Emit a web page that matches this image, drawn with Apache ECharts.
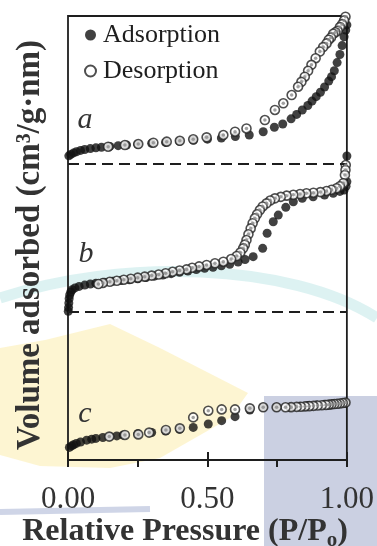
<!DOCTYPE html>
<html><head><meta charset="utf-8">
<script src="https://cdn.jsdelivr.net/npm/echarts@6/dist/echarts.min.js"></script>
<style>html,body{margin:0;padding:0;background:#fff}#c{width:377px;height:546px}</style>
</head><body><div id="c"></div>
<script>
// Relative pressure ticks
const xTickLabels = [0, 0.5, 1];
// vertical offsets of the three stacked isotherms (arbitrary units)
const sampleNames = ['a', 'b', 'c'];
const offsets = [200, 100, 0];

// sample a
const adsA = [[0.003,5.5],[0.01,6.5],[0.02,7.5],[0.03,8.3],[0.045,9.2],[0.06,9.8],[0.08,10.4],[0.10,10.9],[0.12,11.3],[0.15,11.9],[0.18,12.4],[0.21,12.8],[0.25,13.3],[0.30,14.0],[0.35,14.6],[0.40,15.3],[0.45,16.0],[0.50,16.8],[0.55,17.6],[0.60,18.5],[0.65,19.6],[0.70,21.8],[0.74,24.8],[0.77,27.0],[0.80,30.5],[0.82,33.5],[0.84,36.5],[0.86,39.5],[0.875,42.5],[0.89,45.5],[0.905,48.5],[0.92,52],[0.935,56],[0.945,59],[0.955,63],[0.965,68.5],[0.975,74],[0.983,80],[0.99,86],[0.996,90.5],[1.0,94]];
const desA = [[0.995,99.5],[0.99,97],[0.983,94.5],[0.975,92.5],[0.967,90],[0.959,89],[0.951,88],[0.943,85.5],[0.935,84],[0.927,81.5],[0.915,79],[0.903,76],[0.888,71.5],[0.873,67],[0.861,63],[0.849,59],[0.837,55.5],[0.825,52.2],[0.802,46.6],[0.772,41],[0.742,36.5],[0.706,29.7],[0.64,24],[0.599,21.8],[0.557,19.6],[0.497,18],[0.449,16.7],[0.401,15.7],[0.354,15.1],[0.306,14.4],[0.252,13.5],[0.204,12.8],[0.144,11.7]];

// sample b
const adsB = [[0.001,0.5],[0.002,3],[0.003,6],[0.004,9],[0.006,11.5],[0.01,13.5],[0.015,15],[0.025,16.3],[0.04,17.3],[0.06,18.2],[0.08,18.9],[0.10,19.4],[0.13,20.1],[0.16,20.7],[0.19,21.2],[0.22,21.8],[0.25,22.5],[0.28,23.3],[0.31,24.2],[0.34,25],[0.37,25.9],[0.40,26.8],[0.43,27.7],[0.46,28.7],[0.49,29.5],[0.52,30.2],[0.55,31.2],[0.58,32.3],[0.61,33.8],[0.635,35.5],[0.664,37.4],[0.698,43],[0.714,53.2],[0.736,61],[0.754,65.5],[0.781,70.7],[0.808,74.5],[0.84,76.8],[0.879,77.9],[0.92,79],[0.951,80.2],[0.975,81.5],[0.99,82.4],[0.997,85],[1.0,88],[1.0,105.4]];
const desB = [[0.996,99.3],[0.995,96],[0.993,92.6],[0.987,87],[0.975,85],[0.963,83.6],[0.945,82.6],[0.927,81.8],[0.905,81],[0.88,80.6],[0.855,80.2],[0.832,79.7],[0.808,79.2],[0.784,78.6],[0.763,77.8],[0.742,76.8],[0.725,75.3],[0.712,73.4],[0.698,71.3],[0.688,68.9],[0.678,66],[0.670,63.3],[0.662,60],[0.655,56.5],[0.647,52.5],[0.640,48.6],[0.634,45.5],[0.628,43],[0.618,40.2],[0.605,37.8],[0.585,35.8],[0.557,34],[0.527,32.9],[0.497,31.8],[0.47,30.8],[0.445,29.9],[0.425,28.8],[0.40,28],[0.375,27.2],[0.35,26.2],[0.325,25.3],[0.30,24.6],[0.275,23.9],[0.25,23.2],[0.225,22.5],[0.20,21.8],[0.175,21.1],[0.15,20.4],[0.125,19.6],[0.109,18.9]];

// sample c
const adsC = [[0.005,8.5],[0.013,9.5],[0.02,10.3],[0.03,11.2],[0.045,12.2],[0.067,13.4],[0.085,14.1],[0.10,14.6],[0.125,15.2],[0.15,15.8],[0.175,16.3],[0.198,16.9],[0.25,17.8],[0.30,18.6],[0.35,19.6],[0.40,20.8],[0.449,22],[0.503,24.3],[0.551,26.6],[0.599,29.3],[0.652,33.8],[0.70,35.6],[0.748,35.6],[0.796,35.7],[0.83,36.3],[0.86,36.8],[0.89,37.2],[0.92,37.6],[0.95,38],[0.975,38.2],[0.993,38.5]];
const desC = [[0.995,38.8],[0.985,38.5],[0.975,38.2],[0.965,38],[0.955,37.8],[0.945,37.6],[0.935,37.4],[0.925,37.2],[0.91,37],[0.895,36.8],[0.88,36.6],[0.865,36.4],[0.85,36.2],[0.835,36],[0.82,35.9],[0.80,35.7],[0.78,35.6],[0.748,35.6],[0.70,35.6],[0.652,34.9],[0.599,34.2],[0.551,34.2],[0.503,33.3],[0.449,28.8],[0.401,21.4],[0.351,20.3],[0.291,18.5],[0.252,17.3],[0.204,16.9],[0.148,15.8]];

const adsAll = [adsA, adsB, adsC];
const desAll = [desA, desB, desC];
const shift = (arr, off) => arr.map(p => [p[0], p[1] + off]);

const FAM = '"Liberation Serif", serif';
const INK = '#1e1e1e';
const TXT = '#333';

const adsData = [].concat(...adsAll.map((d, i) => shift(d, offsets[i])));
const desData = [].concat(...desAll.map((d, i) => shift(d, offsets[i])));

const chart = echarts.init(document.getElementById('c'), null, {renderer: 'canvas'});
chart.setOption({
  animation: false,
  backgroundColor: '#fff',
  textStyle: {fontFamily: FAM},
  grid: {left: 68, right: 30, top: 16, bottom: 86, show: true, borderColor: INK, borderWidth: 1.8, backgroundColor: 'transparent'},
  legend: {
    orient: 'vertical', left: 79, top: 17, itemGap: 10, itemWidth: 11, itemHeight: 11,
    data: ['Adsorption', 'Desorption'],
    textStyle: {fontFamily: FAM, fontSize: 26, color: INK, padding: [0, 0, 0, 2]}
  },
  xAxis: [
    {type: 'value', min: 0, max: 1, interval: 0.5, position: 'bottom',
     axisLine: {show: true, lineStyle: {color: INK, width: 2}},
     axisTick: {show: true, inside: true, length: 8, lineStyle: {color: INK, width: 2}},
     splitLine: {show: false},
     axisLabel: {show: true, margin: 24, fontFamily: FAM, fontSize: 31, color: TXT,
       formatter: v => xTickLabels.indexOf(v) >= 0 ? v.toFixed(2) : ''}},
    {type: 'value', min: 0, max: 1, interval: 0.25, position: 'bottom',
     axisLine: {show: true, lineStyle: {color: INK, width: 2}},
     axisTick: {show: true, inside: false, length: 7, lineStyle: {color: INK, width: 2}},
     splitLine: {show: false}, axisLabel: {show: false}}
  ],
  yAxis: {type: 'value', min: 0, max: 300, show: true, axisLine: {show: false}, axisTick: {show: false}, axisLabel: {show: false}, splitLine: {show: false}},
  series: [
    {name: 'Adsorption', type: 'scatter', data: adsData, symbol: 'circle', symbolSize: 9,
     itemStyle: {color: '#111'}, z: 3,
     markLine: {silent: true, symbol: 'none', label: {show: false},
       lineStyle: {color: INK, width: 2, type: [11, 6]},
       data: [{yAxis: offsets[0]}, {yAxis: offsets[1]}]}},
    {name: 'Desorption', type: 'scatter', data: desData, symbol: 'circle', symbolSize: 9,
     itemStyle: {color: '#fff', borderColor: '#222', borderWidth: 1.6}, z: 4},
    {name: 'Desorption centre', type: 'scatter', data: desData, symbol: 'circle', symbolSize: 3.5,
     itemStyle: {color: '#8a8a8a'}, z: 5, silent: true}
  ],
  graphic: [
    {type: 'rect', z: -10, shape: {x: 264, y: 396, width: 113, height: 150}, style: {fill: '#cbd0e2'}},
    {type: 'polygon', z: -10, shape: {points: [[0,348],[45,340],[110,324],[160,348],[248,393],[230,418],[160,458],[110,468],[40,466],[0,455]]}, style: {fill: 'rgba(252,242,195,0.75)'}},
    {type: 'bezierCurve', z: -10, shape: {x1: 0, y1: 298, cpx1: 120, cpy1: 258, cpx2: 290, cpy2: 262, x2: 377, y2: 318}, style: {stroke: 'rgba(180,226,226,0.45)', lineWidth: 11, fill: null}},
    {type: 'line', z: -10, shape: {x1: 0, y1: 512, x2: 150, y2: 509}, style: {stroke: 'rgba(175,185,215,0.6)', lineWidth: 6}},
    {type: 'text', x: 30, y: 245, rotation: Math.PI / 2, z: 10,
     style: {text: 'Volume adsorbed (cm³/g·nm)', font: 'bold 33px ' + FAM, fill: TXT, align: 'center', verticalAlign: 'middle'}},
    {type: 'text', x: 185, y: 532, z: 10,
     style: {text: '{m|Relative Pressure (P/P}{s|o}{m|)}', align: 'center', verticalAlign: 'middle', font: 'bold 32px ' + FAM, fill: TXT,
       rich: {m: {font: 'bold 32px ' + FAM, fill: TXT},
              s: {font: 'bold 21px ' + FAM, fill: TXT, padding: [17, 0, 0, 0]}}}},
    {type: 'text', x: 85, y: 120, z: 10, style: {text: sampleNames[0], font: 'italic 30px ' + FAM, fill: TXT, align: 'center', verticalAlign: 'middle'}},
    {type: 'text', x: 86, y: 254, z: 10, style: {text: sampleNames[1], font: 'italic 30px ' + FAM, fill: TXT, align: 'center', verticalAlign: 'middle'}},
    {type: 'text', x: 85, y: 414, z: 10, style: {text: sampleNames[2], font: 'italic 30px ' + FAM, fill: TXT, align: 'center', verticalAlign: 'middle'}}
  ]
});
</script></body></html>
